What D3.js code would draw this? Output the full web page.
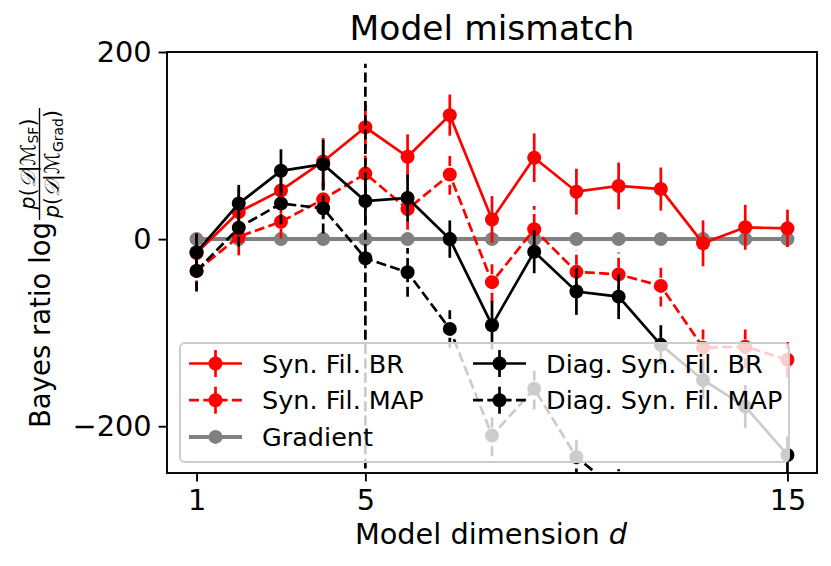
<!DOCTYPE html>
<html>
<head>
<meta charset="utf-8">
<script src="https://d3js.org/d3.v7.min.js"></script>
<style>
  body { margin: 0; background: #fff; }
  svg text { font-family: "DejaVu Sans", sans-serif; fill: #000; }
</style>
</head>
<body>
<div id="chart"></div>
<script>
// model dimension d
const dims = [1, 2, 3, 4, 5, 6, 7, 8, 9, 10, 11, 12, 13, 14, 15];
const xTicks = [1, 5, 15];
const yTicks = [-200, 0, 200];

// Bayes ratio, Syn. Fil. BR
const synBR    = [-15, 29, 52, 83, 119.5, 88, 132.5, 21, 87, 50.7, 56.8, 53.5, -4.5, 12.6, 11.5];
const synBRErr = [21, 25, 25, 25, 24, 24, 22, 25, 26, 24.5, 25, 23, 24.5, 24, 20];
// Syn. Fil. MAP
const synMAP    = [-34, 2.6, 18.6, 42.5, 70, 32, 69, -46, 10.5, -35, -37.7, -50, -116, -115, -129];
const synMAPErr = [21, 20, 18, 20, 22, 22, 21.5, 22, 25, 23, 23.5, 22, 22, 23, 19];
// Gradient (reference)
const gradient = [0, 0, 0, 0, 0, 0, 0, 0, 0, 0, 0, 0, 0, 0, 0];
// Diag. Syn. Fil. BR
const diagBR    = [-14, 38, 73, 80, 40.7, 44, 0, -92, -13.5, -56, -61.5, -113, -150.6, -179, -230.7];
const diagBRErr = [20, 20, 23, 26, 25, 25, 20, 26, 23, 25, 24, 21, 20, 23, 20];
// Diag. Syn. Fil. MAP (last points fall below the axis)
const diagMAP      = [-34, 12.2, 38, 33, -20.5, -35.5, -96, -210, -160, -233, -270, -300, -330, -360, -390];
const diagMAPErrHi = [22, 20, 22, 27, 208, 26, 20, 22, 22, 23, 24, 24, 24, 24, 24];
const diagMAPErrLo = [22, 20, 22, 27, 240, 26, 20, 22, 22, 23, 24, 24, 24, 24, 24];

const W = 831, H = 566;
const lw = 2.7, dash = "10 4.3";

const x = d3.scaleLinear().domain([0.3, 15.7]).range([167, 817]);
const y = d3.scaleLinear().domain([-250, 200]).range([473, 52]);

const svg = d3.select("#chart").append("svg")
    .attr("width", W).attr("height", H);

svg.append("defs").append("clipPath").attr("id", "plotclip")
  .append("rect")
    .attr("x", x.range()[0]).attr("y", y.range()[1])
    .attr("width", x.range()[1] - x.range()[0])
    .attr("height", y.range()[0] - y.range()[1]);

// plotting order: gradient underneath, then the filters
const series = [
  { label: "Gradient", vals: gradient, color: "#808080", dashed: false, width: 4, lo: null, hi: null },
  { label: "Syn. Fil. BR", vals: synBR, color: "#ff0000", dashed: false, width: lw, lo: synBRErr, hi: synBRErr },
  { label: "Syn. Fil. MAP", vals: synMAP, color: "#ff0000", dashed: true, width: lw, lo: synMAPErr, hi: synMAPErr },
  { label: "Diag. Syn. Fil. BR", vals: diagBR, color: "#000000", dashed: false, width: lw, lo: diagBRErr, hi: diagBRErr },
  { label: "Diag. Syn. Fil. MAP", vals: diagMAP, color: "#000000", dashed: true, width: lw, lo: diagMAPErrLo, hi: diagMAPErrHi }
];

const plot = svg.append("g").attr("clip-path", "url(#plotclip)");
const line = d3.line().x(d => x(d.d)).y(d => y(d.v));

series.forEach(s => {
  const pts = dims.map((d, i) => ({ d: d, v: s.vals[i], lo: s.lo ? s.lo[i] : 0, hi: s.hi ? s.hi[i] : 0 }));
  const g = plot.append("g");
  if (s.lo) {
    g.selectAll("line.err").data(pts).join("line")
        .attr("x1", d => x(d.d)).attr("x2", d => x(d.d))
        .attr("y1", d => y(d.v - d.lo)).attr("y2", d => y(d.v + d.hi))
        .attr("stroke", s.color).attr("stroke-width", lw)
        .attr("stroke-dasharray", s.dashed ? dash : null);
  }
  g.append("path").datum(pts)
      .attr("fill", "none").attr("stroke", s.color)
      .attr("stroke-width", s.width)
      .attr("stroke-dasharray", s.dashed ? dash : null)
      .attr("d", line);
  g.selectAll("circle").data(pts).join("circle")
      .attr("cx", d => x(d.d)).attr("cy", d => y(d.v))
      .attr("r", 7).attr("fill", s.color);
});

// axes
const xAxis = svg.append("g")
    .attr("transform", `translate(0,${y.range()[0]})`)
    .call(d3.axisBottom(x).tickValues(xTicks).tickSize(8.4).tickSizeOuter(0).tickPadding(8));
const yAxis = svg.append("g")
    .attr("transform", `translate(${x.range()[0]},0)`)
    .call(d3.axisLeft(y).tickValues(yTicks).tickSize(8.4).tickSizeOuter(0).tickPadding(7));
[xAxis, yAxis].forEach(a => {
  a.attr("font-size", 28.8).attr("font-family", "DejaVu Sans");
  a.select(".domain").remove();
  a.selectAll(".tick line").attr("stroke-width", 1.9);
});

svg.append("rect")
    .attr("x", x.range()[0]).attr("y", y.range()[1])
    .attr("width", x.range()[1] - x.range()[0])
    .attr("height", y.range()[0] - y.range()[1])
    .attr("fill", "none").attr("stroke", "#000").attr("stroke-width", 1.9);

// legend
const legendOrder = ["Syn. Fil. BR", "Syn. Fil. MAP", "Gradient", "Diag. Syn. Fil. BR", "Diag. Syn. Fil. MAP"];
const leg = svg.append("g");
leg.append("rect")
    .attr("x", 180).attr("y", 343).attr("width", 609).attr("height", 119)
    .attr("rx", 5)
    .attr("fill", "#fff").attr("fill-opacity", 0.8)
    .attr("stroke", "#cccccc").attr("stroke-width", 1.9);
legendOrder.forEach((name, k) => {
  const s = series.find(t => t.label === name);
  const col = Math.floor(k / 3), row = k % 3;
  const x0 = 189 + col * 284, cy = 363.5 + row * 36.7;
  const e = leg.append("g");
  e.append("line").attr("x1", x0).attr("x2", x0 + 53).attr("y1", cy).attr("y2", cy)
      .attr("stroke", s.color).attr("stroke-width", s.width)
      .attr("stroke-dasharray", s.dashed ? dash : null);
  if (s.lo) {
    e.append("line").attr("x1", x0 + 26.5).attr("x2", x0 + 26.5)
        .attr("y1", cy - 13.5).attr("y2", cy + 13.5)
        .attr("stroke", s.color).attr("stroke-width", lw);
  }
  e.append("circle").attr("cx", x0 + 26.5).attr("cy", cy).attr("r", 7).attr("fill", s.color);
  e.append("text").attr("x", x0 + 73).attr("y", cy).attr("dy", "0.36em")
      .attr("font-size", 25.5).text(name);
});

// title and labels
svg.append("text").attr("x", 492).attr("y", 40).attr("text-anchor", "middle")
    .attr("font-size", 34.5).text("Model mismatch");

svg.append("text").attr("x", 491).attr("y", 544).attr("text-anchor", "middle")
    .attr("font-size", 28.8)
    .call(t => {
      t.append("tspan").text("Model dimension ");
      t.append("tspan").attr("font-style", "italic").text("d");
    });

// y label: "Bayes ratio log" followed by the fraction
const yl = svg.append("g").attr("transform", "translate(50,264) rotate(-90)");
const main = yl.append("text").attr("x", -164).attr("y", 0).attr("font-size", 27.5)
    .text("Bayes ratio log");
function frac(t, sub) {
  t.append("tspan").attr("font-style", "italic").text("p");
  t.append("tspan").text("(");
  t.append("tspan").attr("font-style", "italic").text("𝒟");
  t.append("tspan").text("|");
  t.append("tspan").attr("font-style", "italic").text("ℳ");
  t.append("tspan").attr("font-size", 14).attr("dy", 3.5).text(sub);
  t.append("tspan").attr("dy", -3.5).text(")");
}
const num = yl.append("text").attr("y", -15.5).attr("text-anchor", "middle")
    .attr("font-size", 20.5).call(frac, "SF");
const den = yl.append("text").attr("y", 9).attr("text-anchor", "middle")
    .attr("font-size", 20.5).call(frac, "Grad");
const start = -164 + main.node().getComputedTextLength() + 2;
const fw = Math.max(den.node().getComputedTextLength(), num.node().getComputedTextLength()) + 4;
num.attr("x", start + fw / 2);
den.attr("x", start + fw / 2);
yl.append("line").attr("x1", start).attr("x2", start + fw).attr("y1", -10.5).attr("y2", -10.5)
    .attr("stroke", "#000").attr("stroke-width", 1.4);
</script>
</body>
</html>
